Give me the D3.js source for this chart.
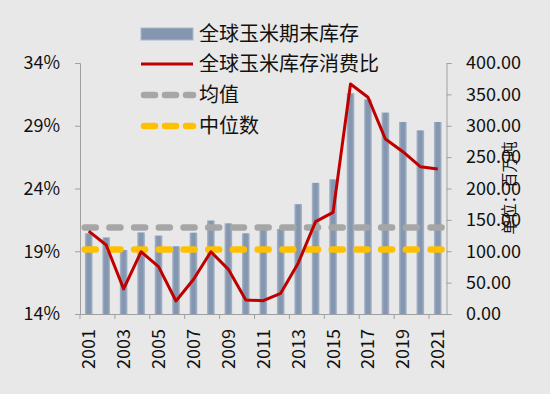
<!DOCTYPE html>
<html>
<head>
<meta charset="utf-8">
<script src="https://cdn.jsdelivr.net/npm/d3@7"></script>
<style>
  body { margin: 0; background: #e8e8e8; }
  svg { display: block; font-family: "Noto Sans CJK SC", "Noto Sans", sans-serif; }
</style>
</head>
<body>
<script>
const w = 550;
const h = 394;

// data
const years = d3.range(2001, 2022).map(String);
const stocks = [128.6, 122, 102, 130, 125, 108, 129.6, 149, 144.5, 128.6, 135, 135.5,
                175, 209, 214.6, 351.7, 342, 321, 306, 292.7, 306];
const ratio = [20.6, 19.5, 16.0, 18.96, 17.77, 15.04, 16.75, 18.96, 17.56, 15.12, 15.06, 15.65,
               18.05, 21.36, 22.1, 32.33, 31.27, 27.94, 26.93, 25.74, 25.55];
const meanRatio = 20.9;
const medianRatio = 19.13;
const leftTicks = [14, 19, 24, 29, 34];
const rightTicks = [0, 50, 100, 150, 200, 250, 300, 350, 400];
const legendNames = ["全球玉米期末库存", "全球玉米库存消费比", "均值", "中位数"];
const rightTitle = "单位：百万吨";

const plotL = 80, plotR = 446.5, plotT = 63, plotB = 314;

const svg = d3.select("body")
              .append("svg")
              .attr("width", w)
              .attr("height", h);

const grad = svg.append("defs").append("linearGradient")
    .attr("id", "barGrad").attr("x1", 0).attr("x2", 1).attr("y1", 0).attr("y2", 0);
grad.append("stop").attr("offset", "0%").attr("stop-color", "#a9b7ca");
grad.append("stop").attr("offset", "30%").attr("stop-color", "#8597b0");
grad.append("stop").attr("offset", "70%").attr("stop-color", "#8597b0");
grad.append("stop").attr("offset", "100%").attr("stop-color", "#a9b7ca");

const x = d3.scaleBand().domain(years).range([plotL, plotR]).padding(0);
const yL = d3.scaleLinear().domain([14, 34]).range([plotB, plotT]);
const yR = d3.scaleLinear().domain([0, 400]).range([plotB, plotT]);

const barW = x.bandwidth() * 0.44;

// bars
svg.append("g").selectAll("rect")
    .data(stocks)
    .join("rect")
    .attr("x", (d, i) => x(years[i]) + (x.bandwidth() - barW) / 2)
    .attr("y", d => yR(d))
    .attr("width", barW)
    .attr("height", d => yR(0) - yR(d))
    .attr("fill", "url(#barGrad)");

// mean / median dashed lines
function refLine(v, color) {
  svg.append("line")
     .attr("x1", x(years[0]) + x.bandwidth() / 2 - 4)
     .attr("x2", x(years[years.length - 1]) + x.bandwidth() / 2 + 4)
     .attr("y1", yL(v)).attr("y2", yL(v))
     .attr("stroke", color)
     .attr("stroke-width", 6.5)
     .attr("stroke-linecap", "round")
     .attr("stroke-dasharray", "11,13.7");
}
refLine(meanRatio, "#a6a6a6");
refLine(medianRatio, "#ffc000");

// ratio line
svg.append("path")
   .datum(ratio)
   .attr("fill", "none")
   .attr("stroke", "#c00000")
   .attr("stroke-width", 3)
   .attr("stroke-linejoin", "round")
   .attr("d", d3.line()
     .x((d, i) => x(years[i]) + x.bandwidth() / 2)
     .y(d => yL(d)));

// axes
const axisColor = "#a0a0a0";
const gL = svg.append("g")
   .attr("transform", "translate(" + plotL + ",0)")
   .call(d3.axisLeft(yL).tickValues(leftTicks).tickSize(5).tickPadding(15).tickFormat(d => d + "%"));
const gR = svg.append("g")
   .attr("transform", "translate(" + plotR + ",0)")
   .call(d3.axisRight(yR).tickValues(rightTicks).tickSize(5).tickPadding(14.5).tickFormat(d3.format(".2f")));
const gX = svg.append("g")
   .attr("transform", "translate(0," + plotB + ")")
   .call(d3.axisBottom(x).tickValues(years.filter((d, i) => i % 2 === 0)).tickSize(0));

[gL, gR, gX].forEach(g => {
  g.select(".domain").attr("stroke", axisColor);
  g.selectAll(".tick line").attr("stroke", axisColor);
  g.selectAll("text").attr("fill", "#111").style("font-size", "18px")
   .style("font-family", "'Noto Sans CJK SC', 'Noto Sans', sans-serif");
});

gX.selectAll("text")
   .attr("transform", "rotate(-90)")
   .attr("text-anchor", "end")
   .attr("x", -15)
   .attr("y", 0)
   .attr("dy", "0.36em");

// category boundary ticks on x axis
gX.selectAll(".bound")
   .data(years.filter((d, i) => i % 2 === 0))
   .join("line")
   .attr("class", "bound")
   .attr("x1", d => x(d)).attr("x2", d => x(d))
   .attr("y1", 0).attr("y2", 5)
   .attr("stroke", axisColor);

// right axis title
svg.append("text")
   .attr("transform", "translate(515,188) rotate(-90)")
   .attr("text-anchor", "middle")
   .attr("fill", "#111")
   .style("font-size", "15.5px")
   .text(rightTitle);

// legend
const lg = svg.append("g").attr("transform", "translate(141,0)");
const rowY = [34, 64, 95, 126];
lg.append("rect").attr("x", 0).attr("y", rowY[0] - 6).attr("width", 52).attr("height", 12)
  .attr("fill", "#8597b0").attr("stroke", "#a9b7ca");
lg.append("line").attr("x1", 0).attr("x2", 52).attr("y1", rowY[1]).attr("y2", rowY[1])
  .attr("stroke", "#c00000").attr("stroke-width", 3);
[["#a6a6a6", rowY[2]], ["#ffc000", rowY[3]]].forEach(([c, yy]) => {
  lg.append("line").attr("x1", 3).attr("x2", 52).attr("y1", yy).attr("y2", yy)
    .attr("stroke", c).attr("stroke-width", 6.5).attr("stroke-linecap", "round")
    .attr("stroke-dasharray", "11,10");
});
lg.selectAll(".lt")
  .data(legendNames)
  .join("text")
  .attr("class", "lt")
  .attr("x", 58)
  .attr("y", (d, i) => rowY[i])
  .attr("dy", "0.35em")
  .attr("fill", "#111")
  .style("font-size", "20px")
  .text(d => d);
</script>
</body>
</html>
